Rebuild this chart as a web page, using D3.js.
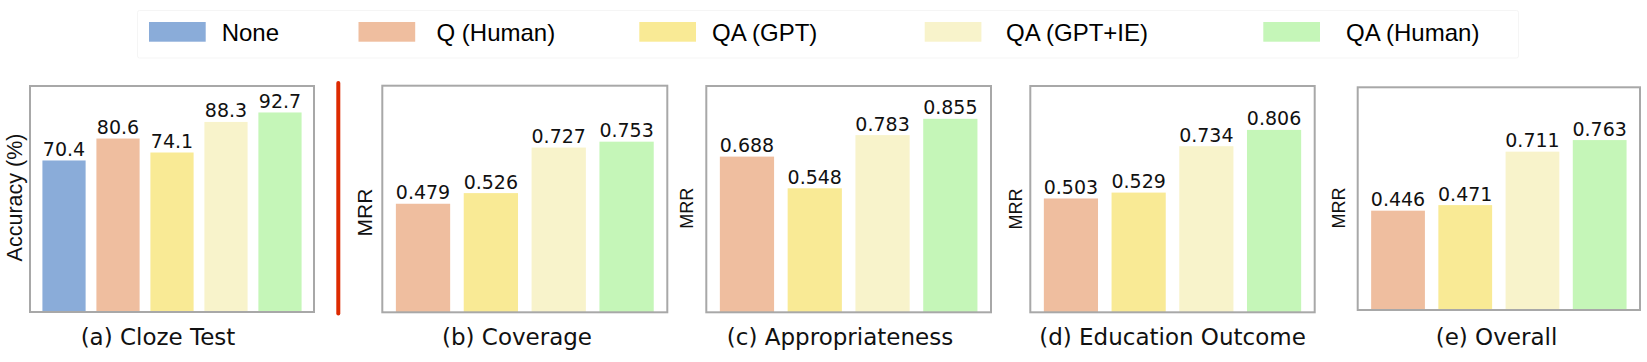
<!DOCTYPE html>
<html>
<head>
<meta charset="utf-8">
<script src="https://cdn.jsdelivr.net/npm/d3@7"></script>
<style>
  body { margin: 0; background: #fff; }
  svg { display: block; }
</style>
</head>
<body>
<svg id="chart"></svg>
<script>
const width = 1647;
const height = 362;

// data
const methods = ['None', 'Q (Human)', 'QA (GPT)', 'QA (GPT+IE)', 'QA (Human)'];
const methodColors = ['#8aacd9', '#efbe9f', '#f9ea95', '#f8f3cb', '#c5f6b8'];
const clozeAcc = [70.4, 80.6, 74.1, 88.3, 92.7];
const coverage = [0.479, 0.526, 0.727, 0.753];
const appropriateness = [0.688, 0.548, 0.783, 0.855];
const eduOutcome = [0.503, 0.529, 0.734, 0.806];
const overall = [0.446, 0.471, 0.711, 0.763];
const panelTitles = ['(a) Cloze Test', '(b) Coverage', '(c) Appropriateness', '(d) Education Outcome', '(e) Overall'];

const svg = d3.select('#chart')
    .attr('width', width)
    .attr('height', height);

const color = d3.scaleOrdinal().domain(methods).range(methodColors);

// panel frames (pixel layout)
const panels = [
    {values: clozeAcc, cats: methods, yMax: 105, fmt: d3.format('.1f'), x: 30, y: 86, w: 284, h: 226, outer: 0.23,
     title: panelTitles[0], tx: 158, ylabel: 'Accuracy (%)', lx: 14, ly: 197.5, lsize: 21.5},
    {values: coverage, cats: methods.slice(1), yMax: 1, fmt: d3.format('.3f'), x: 382.3, y: 85.7, w: 285, h: 226.6, outer: 0.2,
     title: panelTitles[1], tx: 517, ylabel: 'MRR', lx: 364.5, ly: 212.5, lsize: 21},
    {values: appropriateness, cats: methods.slice(1), yMax: 1, fmt: d3.format('.3f'), x: 706.3, y: 86, w: 284.7, h: 226.3, outer: 0.2,
     title: panelTitles[2], tx: 840, ylabel: 'MRR', lx: 687, ly: 208.3, lsize: 18},
    {values: eduOutcome, cats: methods.slice(1), yMax: 1, fmt: d3.format('.3f'), x: 1030.3, y: 86, w: 284.4, h: 226.3, outer: 0.2,
     title: panelTitles[3], tx: 1172.5, ylabel: 'MRR', lx: 1015.8, ly: 209, lsize: 18},
    {values: overall, cats: methods.slice(1), yMax: 1, fmt: d3.format('.3f'), x: 1357.7, y: 87.3, w: 282.3, h: 222.7, outer: 0.2,
     title: panelTitles[4], tx: 1496.5, ylabel: 'MRR', lx: 1339, ly: 208, lsize: 18}
];

panels.forEach(p => {
    const g = svg.append('g');
    const xBand = d3.scaleBand().domain(p.cats).range([p.x, p.x + p.w])
        .paddingInner(0.2).paddingOuter(p.outer);
    const yLin = d3.scaleLinear().domain([0, p.yMax]).range([p.y + p.h, p.y]);
    const rows = p.cats.map((c, i) => ({cat: c, value: p.values[i]}));

    g.selectAll('rect.bar').data(rows).enter().append('rect')
        .attr('class', 'bar')
        .attr('x', d => xBand(d.cat))
        .attr('width', xBand.bandwidth())
        .attr('y', d => yLin(d.value))
        .attr('height', d => yLin(0) - yLin(d.value))
        .attr('fill', d => color(d.cat));

    g.selectAll('text.val').data(rows).enter().append('text')
        .attr('class', 'val')
        .attr('x', d => xBand(d.cat) + xBand.bandwidth() / 2)
        .attr('y', d => yLin(d.value) - 4.5)
        .attr('text-anchor', 'middle')
        .attr('font-family', 'DejaVu Sans')
        .attr('font-size', 19)
        .attr('fill', '#111')
        .text(d => p.fmt(d.value));

    g.append('rect')
        .attr('x', p.x).attr('y', p.y)
        .attr('width', p.w).attr('height', p.h)
        .attr('fill', 'none')
        .attr('stroke', '#a8a8a8')
        .attr('stroke-width', 2);

    g.append('text')
        .attr('x', p.tx).attr('y', 345)
        .attr('text-anchor', 'middle')
        .attr('font-family', 'DejaVu Sans')
        .attr('font-size', 23)
        .attr('fill', '#111')
        .text(p.title);

    g.append('text')
        .attr('transform', `translate(${p.lx},${p.ly}) rotate(-90)`)
        .attr('dy', '0.36em')
        .attr('text-anchor', 'middle')
        .attr('font-family', 'Liberation Sans, Arial, sans-serif')
        .attr('font-size', p.lsize)
        .attr('fill', '#111')
        .text(p.ylabel);
});

// red separator between (a) and the MRR panels
svg.append('line')
    .attr('x1', 338.3).attr('x2', 338.3)
    .attr('y1', 83).attr('y2', 313.5)
    .attr('stroke', '#dd2a00')
    .attr('stroke-width', 4)
    .attr('stroke-linecap', 'round');

// legend
const legendX = [149, 358.5, 639.3, 924.7, 1263.3];
const legendTextX = [221.7, 436.5, 712, 1006, 1346];

svg.append('rect')
    .attr('x', 137.5).attr('y', 10.5)
    .attr('width', 1381).attr('height', 47.5)
    .attr('rx', 2)
    .attr('fill', 'none')
    .attr('stroke', '#f5f5f5')
    .attr('stroke-width', 1);

const legend = svg.selectAll('g.legend').data(methods).enter().append('g')
    .attr('class', 'legend');

legend.append('rect')
    .attr('x', (d, i) => legendX[i])
    .attr('y', 22)
    .attr('width', 56.7)
    .attr('height', 19.7)
    .attr('fill', d => color(d));

legend.append('text')
    .attr('x', (d, i) => legendTextX[i])
    .attr('y', 40.5)
    .attr('font-family', 'Liberation Sans, Arial, sans-serif')
    .attr('font-size', 24)
    .attr('fill', '#000')
    .text(d => d);
</script>
</body>
</html>
